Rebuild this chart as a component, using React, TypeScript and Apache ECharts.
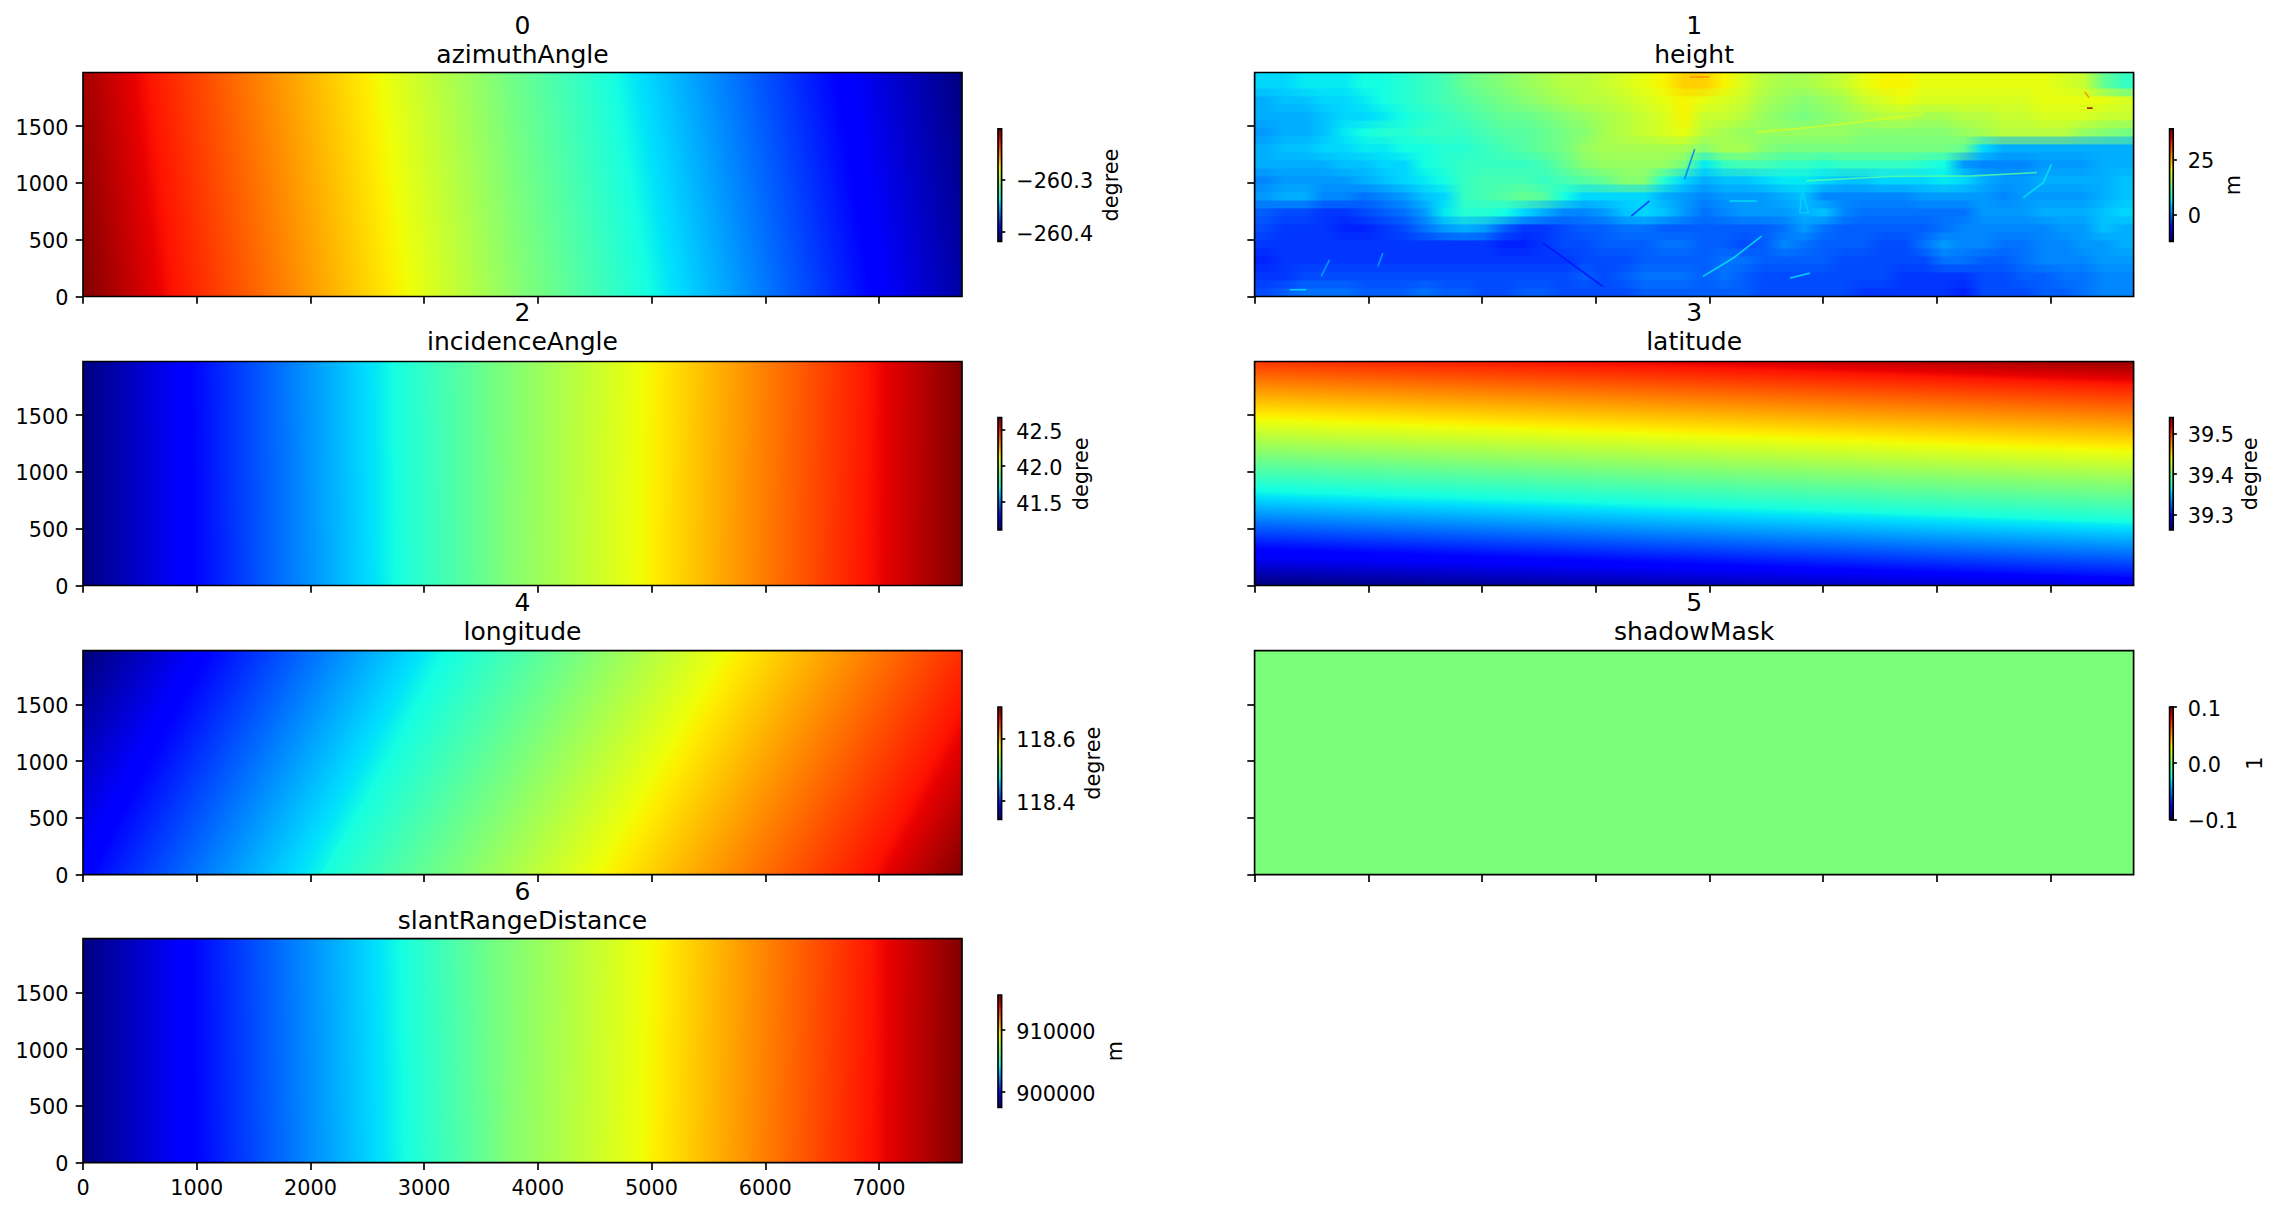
import React, { useEffect, useRef } from "react";
import * as echarts from "echarts";

const X_MAX = 7730;
const Y_MAX = 1972;
const xTicks = [0, 1000, 2000, 3000, 4000, 5000, 6000, 7000];
const yTicks = [0, 500, 1000, 1500];

// Iso-value lines: value, then position at the two panel edges.
const azimuthLevels = [-260.2032, -260.2268, -260.2783, -260.3105, -260.3373, -260.3909, -260.4177];
const azimuthXTop = [-218, 582, 2547, 3686, 4646, 6629, 7730];
const azimuthXBottom = [0, 806, 2803, 3929, 4998, 6917, 8005];

const incidenceLevels = [41.11, 41.306, 41.697, 41.893, 42.128, 42.504, 42.676];
const incidenceXTop = [0, 950, 2726, 3686, 5000, 6917, 7730];
const incidenceXBottom = [0, 966, 2760, 3686, 4953, 6885, 7730];

const latitudeLevels = [39.54, 39.509, 39.443, 39.401, 39.366, 39.297, 39.262];
const latitudeYLeft = [2319, 2058, 1485, 1135, 857, 301, 0];
const latitudeYRight = [2002, 1773, 1201, 857, 546, 72, -190];

const longitudeLevels = [118.342, 118.342, 118.387, 118.476, 118.521, 118.575, 118.661, 118.70];
const longitudeXTop = [-1000, 102, 1062, 3238, 4390, 5733, 8005, 8805];
const longitudeXBottom = [-2000, -1049, 102, 2086, 3270, 4614, 6917, 7730];

const shadowLevels = [0, 0];
const shadowXTop = [0, 7730];
const shadowXBottom = [0, 7730];

const slantLevels = [897530, 899800, 904340, 906610, 909334, 913692, 915690];
const slantXTop = [0, 966, 2780, 3686, 5054, 6949, 7730];
const slantXBottom = [0, 966, 2850, 3686, 4966, 6917, 7730];

// Height field in metres, coarse cells, top row first.
const heightRows = [
  [5,5,6,6,6,7,7,8,9,10,12,13,14,15,16,17,17,18,19,20,21,23, 23,21,19,17,16,16,17,18,20,21,21,20,20,20,20,20,20,20,19,18,12,9],
  [3,4,4,5,5,6,7,8,9,10,11,12,13,14,15,16,17,17,18,19,20,21, 20,19,18,16,15,14,15,16,18,19,20,19,19,19,19,19,19,20,20,20,20,19],
  [3,3,3,4,5,5,6,7,8,9,10,11,12,12,13,14,15,16,17,18,19,21, 18,18,17,15,14,13,14,15,16,17,17,16,16,17,17,18,18,19,19,19,18,18],
  [2,3,3,4,6,7,8,8,9,9,9,10,11,11,12,13,14,16,17,18,19,20, 17,16,15,15,15,15,15,15,14,14,14,14,14,15,16,17,17,17,17,15,14,13],
  [3,4,4,5,5,6,6,7,7,8,8,9,10,11,12,13,15,16,16,16,16,16, 14,16,16,14,13,13,13,13,13,13,13,13,13,12,5,3,3,3,3,3,3,3],
  [3,3,3,3,4,4,5,5,7,8,9,9,9,9,10,12,14,15,15,15,15,13, 6,9,10,10,9,9,8,9,9,9,9,8,7,2,1,1,1,2,2,2,3,3],
  [1,2,2,2,2,3,4,5,6,7,9,10,10,10,9,10,11,12,14,14,8,5, 3,4,4,5,6,6,5,4,4,5,5,5,6,5,3,2,2,3,3,3,3,4],
  [2,3,3,1,1,0,1,2,4,5,9,10,11,12,11,7,5,5,5,5,3,2, 1,2,2,2,3,4,1,1,1,1,1,2,2,2,2,1,2,2,2,2,3,4],
  [-1,-2,-2,-3,-3,-2,-1,0,2,6,8,8,7,5,3,1,1,2,4,5,4,2, 0,1,2,2,2,3,4,1,0,0,0,0,0,0,2,2,2,3,3,3,4,5],
  [-2,-3,-3,-3,-4,-4,-3,-2,0,2,3,2,-1,-3,-3,-2,-1,-1,0,0,-1,-1, -1,-1,-1,-1,0,2,0,-1,-1,-1,-1,-1,0,1,1,1,1,1,2,2,4,3],
  [-3,-3,-3,-3,-3,-3,-3,-3,-3,-3,-3,-3,-4,-4,-3,-2,-2,-1,-1,-1,0,0, -1,-1,-2,-1,1,0,-1,-1,-1,-2,-2,0,2,1,1,0,0,1,1,2,2,3],
  [-4,-3,-3,-3,-3,-3,-3,-3,-3,-3,-3,-3,-3,-3,-3,-3,-2,-2,-2,-1,-1,-1, -1,0,0,-1,-1,-1,-1,-2,-2,-2,-2,-2,0,0,-1,-1,0,1,1,1,2,2],
  [-3,-3,-2,-2,-2,-2,-2,-2,-2,-2,-2,-2,-2,-2,-2,-2,-1,-2,-1,0,0,0, -1,0,-1,-2,-2,-2,-2,-2,-2,-2,-3,-3,-3,-3,-2,-2,-1,-1,0,0,1,1],
  [-2,-1,0,0,0,-1,-1,-1,0,-1,-1,-2,-2,-1,-1,-2,-2,-2,-2,-1,-1,-1, -1,-1,-1,-2,-2,-2,-2,-2,-3,-3,-3,-3,-3,-4,-2,-2,-2,-1,-1,0,1,1],
];

// Linear features visible in the height panel: value in metres, then x,y points.
const heightFeatures: [number, number[][]][] = [
  [6, [[3943, 177], [4210, 339], [4459, 531]]],
  [6, [[6760, 870], [6936, 1003], [7009, 1165]]],
  [11, [[4853, 1018], [5588, 1056], [6320, 1062], [6879, 1091]]],
  [19, [[4415, 1446], [5060, 1505], [5880, 1608]]],
  [6, [[4707, 162], [4884, 206]]],
  [6, [[4178, 841], [4415, 841]]],
  [5, [[4813, 944], [4796, 737], [4870, 737], [4813, 944]]],
  [-5, [[2535, 472], [3063, 88]]],
  [3, [[659, 324], [586, 177]]],
  [3, [[1128, 383], [1084, 265]]],
  [0, [[3780, 1030], [3870, 1296]]],
  [-4, [[3312, 708], [3473, 841]]],
  [6, [[308, 59], [454, 59]]],
  [27, [[3829, 1932], [4000, 1932]]],
  [38, [[7320, 1658], [7370, 1658]]],
  [27, [[7300, 1800], [7340, 1750]]],
];

const titles = ["azimuthAngle", "height", "incidenceAngle", "latitude", "longitude", "shadowMask", "slantRangeDistance"];
const indexLabels = ["0", "1", "2", "3", "4", "5", "6"];
const units = ["degree", "m", "degree", "degree", "degree", "1", "m"];
const rangeMin = [-260.4177, -12.0, 41.11, 39.262, 118.342, -0.1, 897530];
const rangeMax = [-260.2032, 38.7, 42.676, 39.54, 118.70, 0.1, 915690];
const barTickValues = [
  [-260.4, -260.3], [0, 25], [41.5, 42.0, 42.5], [39.3, 39.4, 39.5], [118.4, 118.6], [-0.1, 0.0, 0.1], [900000, 910000],
];
const barTickLabels = [
  ["\u2212260.4", "\u2212260.3"], ["0", "25"], ["41.5", "42.0", "42.5"], ["39.3", "39.4", "39.5"], ["118.4", "118.6"], ["\u22120.1", "0.0", "0.1"], ["900000", "910000"],
];

const FONT = "DejaVu Sans";
const TICK_FS = 20.8;
const TITLE_FS = 25;
const SPINE = 1.67;
const TICK_LEN = 7.3;
const LABEL_MARGIN = 14.6;
const colLeft = [83, 1254.6];
const rowTop = [72.5, 361.5, 650.7, 938.7];
const titleShift = [0, -1.2, -1.2, 0];
const PANEL_W = 879;
const PANEL_H = 224;
const BAR_GAP = 915;
const BAR_W = 3.6;
const barTop = [128.9, 417.6, 707, 995];
const BAR_H = 112.4;
const unitCenterX = [1111, 2233, 1081, 2250, 1093, 2255, 1115];

const redStops = [[0, 0], [0.35, 0], [0.66, 1], [0.89, 1], [1, 0.5]];
const greenStops = [[0, 0], [0.125, 0], [0.375, 1], [0.64, 1], [0.91, 0], [1, 0]];
const blueStops = [[0, 0.5], [0.11, 1], [0.34, 1], [0.65, 0], [1, 0]];
const jetBreaks = [0, 0.11, 0.125, 0.34, 0.35, 0.375, 0.64, 0.65, 0.66, 0.89, 0.91, 1];

function channel(stops: number[][], t: number) {
  for (let i = 1; i < stops.length; i++) {
    if (t <= stops[i][0]) {
      const [a, va] = stops[i - 1];
      const [b, vb] = stops[i];
      return va + ((t - a) / (b - a)) * (vb - va);
    }
  }
  return stops[stops.length - 1][1];
}
function jet(t: number) {
  const c = Math.max(0, Math.min(1, t));
  const to = (v: number) => Math.round(v * 255);
  return `rgb(${to(channel(redStops, c))},${to(channel(greenStops, c))},${to(channel(blueStops, c))})`;
}
function gradientStops(ta: number, tb: number) {
  if (ta === tb) return [{ offset: 0, color: jet(ta) }, { offset: 1, color: jet(tb) }];
  const lo = Math.min(ta, tb);
  const hi = Math.max(ta, tb);
  const ts = [ta, ...jetBreaks.filter((b) => b > lo && b < hi), tb];
  return ts
    .map((t) => ({ offset: (t - ta) / (tb - ta), color: jet(t) }))
    .sort((p, q) => p.offset - q.offset);
}

type Iso = { index: number; levels: number[]; a: number[]; b: number[]; horizontal?: boolean };

function isoSeries(iso: Iso) {
  const { index, levels, a, b, horizontal } = iso;
  const span = rangeMax[index] - rangeMin[index];
  const tOf = (v: number) => (v - rangeMin[index]) / span;
  const line = (api: any, i: number) =>
    horizontal
      ? [api.coord([0, a[i]]), api.coord([X_MAX, b[i]])]
      : [api.coord([a[i], Y_MAX]), api.coord([b[i], 0])];
  return {
    type: "custom",
    xAxisIndex: index,
    yAxisIndex: index,
    z: 1,
    clip: true,
    silent: true,
    data: levels.slice(0, -1).map((_, i) => [i, 0]),
    renderItem: (params: any, api: any) => {
      const i = params.dataIndex;
      const [p0, p1] = line(api, i);
      const [q0, q1] = line(api, i + 1);
      const [r0, r1] = line(api, Math.min(i + 2, levels.length - 1));
      const dx = p1[0] - p0[0] + q1[0] - q0[0];
      const dy = p1[1] - p0[1] + q1[1] - q0[1];
      const len = Math.hypot(dx, dy);
      const nx = -dy / len;
      const ny = dx / len;
      const ca = [(p0[0] + p1[0]) / 2, (p0[1] + p1[1]) / 2];
      const cb = [(q0[0] + q1[0]) / 2, (q0[1] + q1[1]) / 2];
      const proj = (cb[0] - ca[0]) * nx + (cb[1] - ca[1]) * ny;
      const ex = ca[0] + nx * proj;
      const ey = ca[1] + ny * proj;
      const stops = gradientStops(tOf(levels[i]), tOf(levels[i + 1]));
      return {
        type: "polygon",
        shape: { points: [p0, p1, r1, r0] },
        style: { fill: new echarts.graphic.LinearGradient(ca[0], ca[1], ex === ca[0] && ey === ca[1] ? ca[0] + 1 : ex, ey, stops, true) },
      };
    },
  };
}

function heightLayer(phase: number, opacity: number) {
  const index = 1;
  const span = rangeMax[index] - rangeMin[index];
  const rows = heightRows.length;
  const cols = heightRows[0].length;
  const tOf = (v: number) => (v - rangeMin[index]) / span;
  return {
    type: "custom",
    xAxisIndex: index,
    yAxisIndex: index,
    z: 1,
    clip: true,
    silent: true,
    data: heightRows.map((_, r) => [r, 0]),
    renderItem: (params: any, api: any) => {
      const r = params.dataIndex;
      const tl = api.coord([0, Y_MAX - ((r + phase) * Y_MAX) / rows]);
      const br = api.coord([X_MAX, Y_MAX - ((r + 1 + phase) * Y_MAX) / rows]);
      const stops = heightRows[r].map((v, c) => ({ offset: (c + 0.5) / cols, color: jet(tOf(v)) }));
      return {
        type: "rect",
        shape: { x: tl[0], y: tl[1], width: br[0] - tl[0], height: br[1] - tl[1] + (opacity < 1 ? 0 : 0.8) },
        style: { fill: new echarts.graphic.LinearGradient(0, 0, 1, 0, stops), opacity },
      };
    },
  };
}

function featureSeries() {
  const index = 1;
  const span = rangeMax[index] - rangeMin[index];
  return heightFeatures.map(([value, pts]) => ({
    type: "line",
    xAxisIndex: index,
    yAxisIndex: index,
    z: 2,
    silent: true,
    symbol: "none",
    data: pts,
    lineStyle: { color: jet((value - rangeMin[index]) / span), width: 1.6, opacity: 0.8 },
  }));
}

function colorbarSeries(index: number) {
  const stops = jetBreaks.map((t) => ({ offset: 1 - t, color: jet(t) })).reverse();
  return {
    type: "custom",
    xAxisIndex: index + 7,
    yAxisIndex: index + 7,
    z: 1,
    silent: true,
    data: [[0, rangeMin[index]]],
    renderItem: (_: any, api: any) => {
      const a = api.coord([0, rangeMax[index]]);
      const b = api.coord([1, rangeMin[index]]);
      return {
        type: "rect",
        shape: { x: a[0], y: a[1], width: b[0] - a[0], height: b[1] - a[1] },
        style: { fill: new echarts.graphic.LinearGradient(0, 0, 0, 1, stops) },
      };
    },
  };
}

function buildOption() {
  const grids: any[] = [];
  const xAxes: any[] = [];
  const yAxes: any[] = [];
  const graphics: any[] = [];
  const tick = { show: true, length: TICK_LEN, lineStyle: { color: "#000", width: SPINE } };
  const labelStyle = { color: "#000", fontFamily: FONT, fontSize: TICK_FS };
  const shifted = { l: { ...labelStyle, padding: [3, 0, 0, 0] } };

  titles.forEach((title, i) => {
    const col = i % 2;
    const row = Math.floor(i / 2);
    const left = colLeft[col];
    const top = rowTop[row];
    grids.push({ left, top, width: PANEL_W, height: PANEL_H, show: true, z: 5, backgroundColor: "transparent", borderColor: "#000", borderWidth: SPINE });
    const showX = i === 6;
    xAxes.push({
      type: "value", gridIndex: i, min: 0, max: X_MAX, splitLine: { show: false },
      axisLine: { show: false },
      axisTick: { ...tick, customValues: xTicks },
      axisLabel: { show: showX, customValues: xTicks, margin: LABEL_MARGIN, ...labelStyle, formatter: (v: number) => String(v) },
    });
    yAxes.push({
      type: "value", gridIndex: i, min: 0, max: Y_MAX, splitLine: { show: false },
      axisLine: { show: false },
      axisTick: { ...tick, customValues: yTicks },
      axisLabel: { show: col === 0, customValues: yTicks, margin: LABEL_MARGIN, ...labelStyle, rich: shifted, formatter: (v: number) => `{l|${v}}` },
    });
    const cx = left + PANEL_W / 2;
    const shift = titleShift[row];
    graphics.push({ type: "text", x: cx, y: top - 47.5 + shift, silent: true, style: { text: indexLabels[i], fill: "#000", font: `${TITLE_FS}px "${FONT}"`, textAlign: "center", textVerticalAlign: "middle" } });
    graphics.push({ type: "text", x: cx, y: top - 18.5 + shift, silent: true, style: { text: title, fill: "#000", font: `${TITLE_FS}px "${FONT}"`, textAlign: "center", textVerticalAlign: "middle" } });
  });

  titles.forEach((_, i) => {
    const col = i % 2;
    const row = Math.floor(i / 2);
    const top = barTop[row];
    grids.push({ left: colLeft[col] + BAR_GAP, top, width: BAR_W, height: BAR_H, show: true, z: 5, backgroundColor: "transparent", borderColor: "#000", borderWidth: SPINE });
    xAxes.push({ type: "value", gridIndex: i + 7, min: 0, max: 1, show: false });
    const values = barTickValues[i];
    const labels = barTickLabels[i];
    yAxes.push({
      type: "value", gridIndex: i + 7, position: "right", min: rangeMin[i], max: rangeMax[i], splitLine: { show: false },
      axisLine: { show: false },
      axisTick: { ...tick, customValues: values },
      axisLabel: {
        show: true, customValues: values, margin: LABEL_MARGIN, ...labelStyle, rich: shifted, showMinLabel: true, showMaxLabel: true,
        formatter: (v: number) => {
          let best = 0;
          values.forEach((t, k) => { if (Math.abs(t - v) < Math.abs(values[best] - v)) best = k; });
          return `{l|${labels[best]}}`;
        },
      },
    });
    graphics.push({
      type: "text", x: unitCenterX[i], y: top + BAR_H / 2, rotation: Math.PI / 2, silent: true,
      style: { text: units[i], fill: "#000", font: `${TICK_FS}px "${FONT}"`, textAlign: "center", textVerticalAlign: "middle" },
    });
  });

  const series: any[] = [
    isoSeries({ index: 0, levels: azimuthLevels, a: azimuthXTop, b: azimuthXBottom }),
    heightLayer(0, 1),
    heightLayer(0.5, 0.5),
    ...featureSeries(),
    isoSeries({ index: 2, levels: incidenceLevels, a: incidenceXTop, b: incidenceXBottom }),
    isoSeries({ index: 3, levels: latitudeLevels, a: latitudeYLeft, b: latitudeYRight, horizontal: true }),
    isoSeries({ index: 4, levels: longitudeLevels, a: longitudeXTop, b: longitudeXBottom }),
    isoSeries({ index: 5, levels: shadowLevels, a: shadowXTop, b: shadowXBottom }),
    isoSeries({ index: 6, levels: slantLevels, a: slantXTop, b: slantXBottom }),
    ...titles.map((_, i) => colorbarSeries(i)),
  ];

  return { animation: false, backgroundColor: "#fff", grid: grids, xAxis: xAxes, yAxis: yAxes, series, graphic: graphics };
}

export default function App() {
  const ref = useRef<HTMLDivElement>(null);
  useEffect(() => {
    document.body.style.margin = "0";
    const chart = echarts.init(ref.current!, undefined, { renderer: "svg" });
    chart.setOption(buildOption() as any);
    return () => chart.dispose();
  }, []);
  return <div ref={ref} style={{ width: 2282, height: 1213 }} />;
}
